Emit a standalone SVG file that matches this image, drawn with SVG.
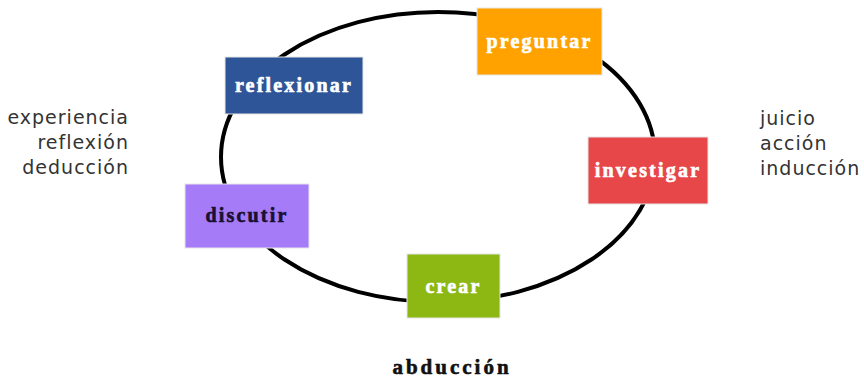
<svg xmlns="http://www.w3.org/2000/svg" width="864" height="378" viewBox="0 0 864 378">
<style>
.lbl{font-family:"Liberation Serif","DejaVu Serif",serif;font-weight:bold;font-size:20px;text-anchor:middle;letter-spacing:2.2px;stroke-width:0.6px}
.side{font-family:"DejaVu Sans","Liberation Sans",sans-serif;font-size:19px;fill:#333;letter-spacing:1px}
.box{stroke:#e6e6e6;stroke-width:1}
</style>
<rect width="864" height="378" fill="#fff"/>
<g id="connectors">
<ellipse cx="438" cy="157" rx="217" ry="145" fill="none" stroke="#000" stroke-width="4"/>
</g>
<g id="reflexionar">
<rect class="box" x="225" y="57" width="138" height="57" fill="#2E5597"/>
<text class="lbl" x="294" y="92" fill="#fff" stroke="#fff">reflexionar</text>
</g>
<g id="preguntar">
<rect class="box" x="477" y="8" width="125" height="67" fill="#FFA200"/>
<text class="lbl" x="539.5" y="48" fill="#fff" stroke="#fff">preguntar</text>
</g>
<g id="investigar">
<rect class="box" x="588" y="137" width="120" height="67" fill="#E8474A"/>
<text class="lbl" x="648" y="177" fill="#fff" stroke="#fff">investigar</text>
</g>
<g id="discutir">
<rect class="box" x="185" y="184" width="124" height="64" fill="#A67BF8"/>
<text class="lbl" x="247" y="222" fill="#1a1030" stroke="#1a1030">discutir</text>
</g>
<g id="crear">
<rect class="box" x="407" y="254" width="93" height="64" fill="#8DB814"/>
<text class="lbl" x="453.5" y="293" fill="#fff" stroke="#fff">crear</text>
</g>
<g id="left-text">
<text class="side" x="129" y="124" text-anchor="end">experiencia</text>
<text class="side" x="129" y="149" text-anchor="end">reflexión</text>
<text class="side" x="129" y="174" text-anchor="end">deducción</text>
</g>
<g id="right-text">
<text class="side" x="760" y="125">juicio</text>
<text class="side" x="760" y="150">acción</text>
<text class="side" x="760" y="175">inducción</text>
</g>
<g id="abduccion">
<text class="lbl" x="452" y="374" fill="#111" stroke="#111" style="font-size:21px;letter-spacing:3px">abducción</text>
</g>
</svg>
